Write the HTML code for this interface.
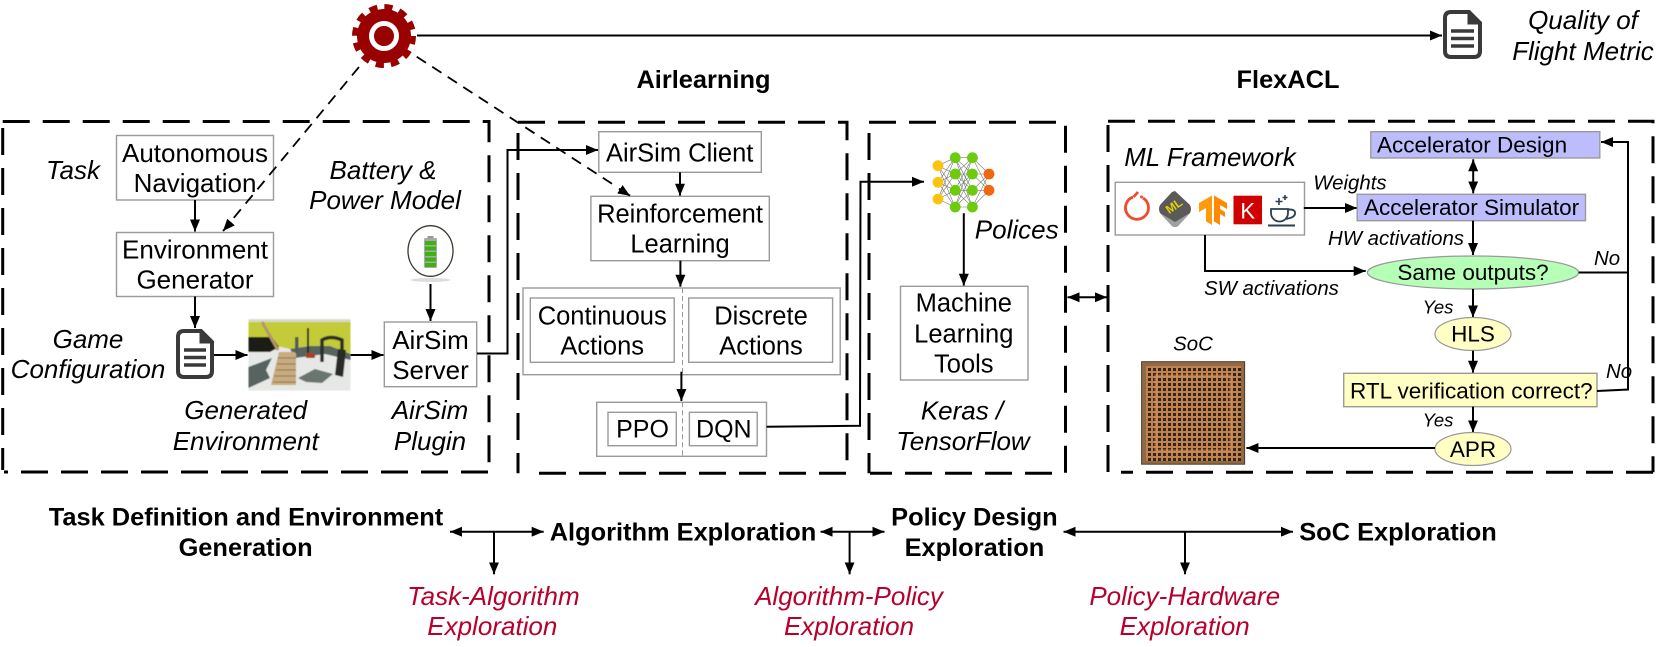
<!DOCTYPE html>
<html><head><meta charset="utf-8"><style>
html,body{margin:0;padding:0;background:#fff}
svg{display:block}
text{font-family:"Liberation Sans",sans-serif;fill:#000}
.m{font-size:26px;text-anchor:middle}
.n{font-size:25.5px;text-anchor:middle}
.s{font-size:22.5px}
.i{font-size:26px;font-style:italic;text-anchor:middle}
.l{font-size:20.4px;font-style:italic}
.b{font-size:25.4px;font-weight:bold;text-anchor:middle}
.r{font-size:26px;font-style:italic;text-anchor:middle;fill:#b7002c}
.box{fill:#fff;stroke:#9a9a9a;stroke-width:1.4}
.dash{fill:none;stroke:#000;stroke-width:3;stroke-dasharray:27 13}
.w{fill:none;stroke:#000;stroke-width:2}
.a{fill:none;stroke:#000;stroke-width:2;marker-end:url(#ah)}
.d{fill:none;stroke:#000;stroke-width:2;marker-end:url(#ah);marker-start:url(#ah)}
.da{fill:none;stroke:#000;stroke-width:1.8;stroke-dasharray:11 7.5}
.thin{stroke:#999;stroke-width:1;stroke-dasharray:5 3;fill:none}
</style></head><body>
<svg width="1661" height="647" viewBox="0 0 1661 647" xmlns="http://www.w3.org/2000/svg">
<defs>
<marker id="ah" markerUnits="userSpaceOnUse" viewBox="0 0 12 10" refX="12" refY="5" markerWidth="12" markerHeight="10" orient="auto-start-reverse"><path d="M0 0L12 5L0 10Z" fill="#000"/></marker>
<pattern id="chip" width="5" height="5" patternUnits="userSpaceOnUse" x="1142" y="362"><rect width="5" height="5" fill="#c08250"/><rect x="1" y="1" width="3" height="3" fill="#33261a"/></pattern>
<filter id="bl"><feGaussianBlur stdDeviation="0.5"/></filter>
</defs>

<!-- dashed boxes -->
<path class="dash" d="M2.7 121.5H489V472"/>
<path class="dash" d="M488 472H4"/>
<path class="dash" d="M2.7 470V121.5" stroke-dashoffset="5"/>
<path class="dash" d="M518 122.3H847V473.3"/>
<path class="dash" d="M846 473.3H530"/>
<path class="dash" d="M518 473.3V122.3" stroke-dashoffset="6.7"/>
<path class="dash" d="M869 122.3H1065.5V473.3"/>
<path class="dash" d="M1052 473.3H870"/>
<path class="dash" d="M869 473.3V122.3" stroke-dashoffset="6.7"/>
<path class="dash" d="M1108 121.3H1653V472.3"/>
<path class="dash" d="M1653 472.3H1121"/>
<path class="dash" d="M1108 472.3V121.3" stroke-dashoffset="39.7"/>

<!-- gear -->
<circle cx="384" cy="36" r="27" fill="#990000"/>
<circle cx="384" cy="36" r="29" fill="none" stroke="#990000" stroke-width="6" stroke-dasharray="8.2 7" />
<circle cx="384" cy="36" r="12.5" fill="none" stroke="#fff" stroke-width="5"/>
<path class="a" d="M417 35.5H1442"/>

<!-- top right doc -->
<g fill="none" stroke="#3a3a3a">
<path d="M1455 12H1469L1480 23V51Q1480 57 1474 57H1451Q1445 57 1445 51V18Q1445 12 1451 12Z" stroke-width="4"/>
<path d="M1468 12V24H1480Z" fill="#3a3a3a" stroke-width="1"/>
<path d="M1451 31H1474M1451 38.500H1474M1451 46H1474" stroke-width="3.600"/>
</g>
<text class="i" x="1583" y="29">Quality of</text>
<text class="i" x="1583" y="60">Flight Metric</text>

<text class="b" x="703.500" y="88">Airlearning</text>
<text class="b" x="1288" y="88">FlexACL</text>

<!-- box 1 -->
<rect class="box" x="116.500" y="135.500" width="157" height="64.500"/>
<text class="m" x="195" y="162">Autonomous</text>
<text class="m" x="195" y="192">Navigation</text>
<rect class="box" x="116.500" y="232.500" width="157" height="64"/>
<text class="m" x="195" y="258.500">Environment</text>
<text class="m" x="195" y="288.700">Generator</text>
<path class="a" d="M195 200V231.500"/>
<path class="a" d="M195 296.500V328"/>
<text class="i" x="73" y="179">Task</text>
<text class="i" x="383" y="179">Battery &amp;</text>
<text class="i" x="385" y="209">Power Model</text>
<text class="i" x="88" y="348">Game</text>
<text class="i" x="88" y="378">Configuration</text>
<text class="i" x="245.700" y="419">Generated</text>
<text class="i" x="245.700" y="450">Environment</text>
<text class="i" x="430" y="419">AirSim</text>
<text class="i" x="430" y="450">Plugin</text>
<g fill="none" stroke="#3a3a3a">
<path d="M188 331H201L212 342V371Q212 377 206 377H184Q178 377 178 371V337Q178 331 184 331Z" stroke-width="4"/>
<path d="M200 331V343H212Z" fill="#3a3a3a" stroke-width="1"/>
<path d="M184 350H206M184 357.500H206M184 365H206" stroke-width="3.600"/>
</g>
<path class="a" d="M214 355H247.500"/>
<path class="a" d="M350.500 355H383.500"/>
<!-- generated environment picture -->
<g filter="url(#bl)">
<rect x="248.500" y="319.300" width="102" height="71.400" fill="#e6e8e6"/>
<rect x="248.500" y="319.300" width="102" height="3" fill="#d8d8c8"/>
<polygon points="248.500,322 350.500,322 350.500,354 330,346 310,346 290,349 272,345 248.500,338" fill="#c4cb39"/>
<polygon points="290,349 310,346 330,346 350.500,354 350.500,360 325,354 295,358" fill="#56645f"/>
<polygon points="248.500,337 272,337 279,347 270,352 248.500,352" fill="#1c1c14"/>
<polygon points="248.500,367 272,358 266,370 270,378 248.500,388" fill="#566360"/>
<polygon points="298,378 315,369 333,374 322,383 306,382" fill="#6a7570"/>
<path d="M262 322L278 350" stroke="#b49668" stroke-width="3" fill="none"/>
<polygon points="279,352 296,352 296,385 271,385" fill="#c8ab7e"/>
<path d="M278 358H296M277 364H296M276 370H296M274 376H296M273 382H296" stroke="#8c7350" stroke-width="1" fill="none"/>
<path d="M322 362V340Q331 335 342 340V358" stroke="#2c2d28" stroke-width="3.500" fill="none"/>
<polygon points="338,349 346,350 343,377 335,375" fill="#2c2c28"/>
<rect x="307" y="328" width="2" height="28" fill="#25251f"/>
<rect x="295" y="337" width="3.500" height="16" fill="#4f5b58"/>
<rect x="306" y="353" width="9" height="5" fill="#a8421f"/>
</g>
<!-- AirSim Server -->
<rect class="box" x="384.300" y="322" width="92.400" height="64.700"/>
<text class="m" x="430.500" y="349">AirSim</text>
<text class="m" x="430.500" y="379">Server</text>
<!-- battery -->
<ellipse cx="430.500" cy="280" rx="20" ry="2" fill="#ddd"/>
<ellipse cx="430.500" cy="251" rx="22.500" ry="25.300" fill="#fff" stroke="#3f3830" stroke-width="1.300"/>
<rect x="424" y="238" width="13" height="30" rx="1.500" fill="#aaa"/>
<rect x="427.500" y="236" width="6" height="2.500" fill="#999"/>
<g fill="#3db212"><rect x="425" y="241" width="11" height="4"/><rect x="425" y="246.500" width="11" height="4"/><rect x="425" y="252" width="11" height="4"/><rect x="425" y="257.500" width="11" height="4"/><rect x="425" y="263" width="11" height="4"/></g>
<path class="a" d="M430.500 284V321"/>
<path class="a" d="M477 353.500H507.500V150H598"/>

<!-- box 2 -->
<rect class="box" x="598.800" y="131.700" width="162.500" height="40.600"/>
<text class="n" x="679.700" y="161.700">AirSim Client</text>
<path class="a" d="M680 172.300V195.700"/>
<rect class="box" x="590.900" y="196.300" width="178.400" height="64.400"/>
<text class="n" x="680" y="222.300">Reinforcement</text>
<text class="n" x="680" y="252.700">Learning</text>
<path class="a" d="M680.400 260.700V286.700"/>
<rect class="box" x="523" y="288" width="317.200" height="86.700"/>
<rect class="box" x="530.300" y="298" width="143.900" height="64.300"/>
<rect class="box" x="688.700" y="298" width="143.900" height="64.300"/>
<path class="thin" d="M682.500 288V374.700"/>
<text class="n" x="602.200" y="324.300">Continuous</text>
<text class="n" x="602.200" y="354.300">Actions</text>
<text class="n" x="761" y="324.300">Discrete</text>
<text class="n" x="761" y="354.300">Actions</text>
<path class="a" d="M681.400 371.700V401"/>
<rect class="box" x="596.700" y="402.300" width="169.800" height="54"/>
<rect class="box" x="608" y="412.300" width="68.300" height="33.400"/>
<rect class="box" x="689.400" y="412.300" width="67.800" height="33.400"/>
<path class="thin" d="M682.500 402.300V456.300"/>
<text class="n" x="642.500" y="437.700" style="font-size:25px">PPO</text>
<text class="n" x="723.800" y="437.700" style="font-size:25px">DQN</text>
<path class="a" d="M766.500 426.700L860 425.700L860.500 181.700H924"/>

<!-- dashed gear connectors, over the boxes -->
<path class="da" d="M359 67L232 220"/>
<path class="a" d="M231 222L223 231"/>
<path class="da" d="M416.700 56.700L617 187"/>
<path class="a" d="M619 188.700L630 195.700"/>

<!-- box 3 -->
<path stroke="#777" stroke-width=".6" fill="none" d="M938 165.700L955 157.700M938 165.700L955 174M938 165.700L955 190.300M938 165.700L955 207M938 182.300L955 157.700M938 182.300L955 174M938 182.300L955 190.300M938 182.300L955 207M938 199L955 157.700M938 199L955 174M938 199L955 190.300M938 199L955 207M955 157.700L972.400 157.700M955 157.700L972.400 174M955 157.700L972.400 190.300M955 157.700L972.400 207M955 174L972.400 157.700M955 174L972.400 174M955 174L972.400 190.300M955 174L972.400 207M955 190.300L972.400 157.700M955 190.300L972.400 174M955 190.300L972.400 190.300M955 190.300L972.400 207M955 207L972.400 157.700M955 207L972.400 174M955 207L972.400 190.300M955 207L972.400 207M972.400 157.700L989 174M972.400 157.700L989 190.300M972.400 174L989 174M972.400 174L989 190.300M972.400 190.300L989 174M972.400 190.300L989 190.300M972.400 207L989 174M972.400 207L989 190.300"/>
<g fill="#fdc30f"><circle cx="938" cy="165.700" r="5.400"/><circle cx="938" cy="182.300" r="5.400"/><circle cx="938" cy="199" r="5.400"/></g>
<g fill="#6ccb0c"><circle cx="955.200" cy="157.700" r="5.400"/><circle cx="955.200" cy="174" r="5.400"/><circle cx="955.200" cy="190.300" r="5.400"/><circle cx="955.200" cy="207" r="5.400"/><circle cx="972.400" cy="157.700" r="5.400"/><circle cx="972.400" cy="174" r="5.400"/><circle cx="972.400" cy="190.300" r="5.400"/><circle cx="972.400" cy="207" r="5.400"/></g>
<g fill="#f2660e"><circle cx="989" cy="174" r="5.400"/><circle cx="989" cy="190.300" r="5.400"/></g>
<path class="a" d="M963.800 213.300V285.700"/>
<text class="i" x="974.800" y="238.300" style="text-anchor:start">Polices</text>
<rect class="box" x="900.500" y="286.300" width="127.500" height="93.700"/>
<text class="n" x="963.800" y="311.700">Machine</text>
<text class="n" x="963.800" y="342.300">Learning</text>
<text class="n" x="963.800" y="372.700">Tools</text>
<text class="i" x="962" y="419.300">Keras /</text>
<text class="i" x="963" y="450">TensorFlow</text>
<path class="d" d="M1067.500 297.300H1107"/>

<!-- box 4 -->
<text class="i" x="1210" y="166" style="font-size:25.800px">ML Framework</text>
<rect class="box" x="1115.200" y="182.300" width="189.300" height="52.700"/>
<!-- icons -->
<path d="M1133 197A11.500 11.500 0 1 0 1143 198" fill="none" stroke="#ee4c2c" stroke-width="2.800"/>
<path d="M1133.500 197L1138 192" fill="none" stroke="#ee4c2c" stroke-width="2.800"/>
<circle cx="1141.500" cy="197" r="1.500" fill="#ee4c2c"/>
<path d="M1175 191L1190 205Q1192 209 1190 213L1178 226Q1175 228 1172 226L1160 213Q1158 209 1160 205L1172 192Z" fill="#5a5a5a"/>
<path d="M1160 213L1172 226Q1175 228 1178 226L1190 213L1175 222Z" fill="#a0a0a0"/>
<text x="1174" y="210" transform="rotate(-35 1174 206)" style="font-size:12px;font-weight:bold;text-anchor:middle;fill:#e6d000">ML</text>
<polygon points="1199,203 1212,195.500 1212,225 1206,221.500 1206,208 1199,212" fill="#ff9a0a"/>
<polygon points="1214,195.500 1227,203 1227,209 1220,205 1220,209 1225,212 1225,217 1220,214 1220,225 1214,221.500" fill="#ff8a00"/>
<rect x="1233.500" y="195.700" width="28.500" height="28.600" fill="#d00000"/>
<text x="1247.700" y="218.500" style="font-size:22px;text-anchor:middle;fill:#fff">K</text>
<path d="M1271 209H1288V213A8.500 8.500 0 0 1 1271 213ZM1288 209.500Q1296 209 1295 214Q1294 218 1285 219" fill="none" stroke="#2c3e50" stroke-width="1.800"/>
<path d="M1268 225.500H1295" stroke="#2c3e50" stroke-width="2"/>
<path d="M1279 198V205M1275.500 201.500H1282.500M1285 195V200M1282.500 197.500H1287.500" stroke="#2c3e50" stroke-width="1.600"/>
<path class="a" d="M1303.800 208H1357"/>
<text class="l" x="1313.300" y="189.300">Weights</text>
<text class="l" x="1328" y="245">HW activations</text>
<text class="l" x="1204" y="295">SW activations</text>
<path class="a" d="M1205 235V271H1365.700"/>

<rect x="1370.800" y="131.700" width="229" height="26.300" fill="#bdbdfd" stroke="#9a9a9a" stroke-width="1.400"/>
<text class="s" x="1377" y="152.300">Accelerator Design</text>
<path class="d" d="M1473.200 159.300V193.300"/>
<rect x="1357.200" y="194.300" width="228.300" height="26.400" fill="#bdbdfd" stroke="#9a9a9a" stroke-width="1.400"/>
<text class="s" x="1364" y="215">Accelerator Simulator</text>
<path class="a" d="M1473 220.700V255"/>
<ellipse cx="1473" cy="272.500" rx="105.600" ry="16.500" fill="#b6ffb6" stroke="#9a9a9a" stroke-width="1.200"/>
<text class="s" x="1473" y="280" text-anchor="middle">Same outputs?</text>
<path class="a" d="M1473 289V317.300"/>
<text class="l" x="1438" y="313.300" text-anchor="middle" style="font-size:18.500px">Yes</text>
<ellipse cx="1473" cy="334" rx="38" ry="16.500" fill="#ffffc4" stroke="#9a9a9a" stroke-width="1.200"/>
<text class="s" x="1473" y="341.700" text-anchor="middle">HLS</text>
<path class="a" d="M1473 350.700V372.700"/>
<rect x="1343.700" y="373.300" width="253.300" height="33.400" fill="#ffffc4" stroke="#9a9a9a" stroke-width="1.400"/>
<text class="s" x="1350" y="398.300">RTL verification correct?</text>
<path class="a" d="M1473 406.700V432.300"/>
<text class="l" x="1438" y="426.700" text-anchor="middle" style="font-size:18.500px">Yes</text>
<ellipse cx="1473" cy="449" rx="38" ry="16.500" fill="#ffffc4" stroke="#9a9a9a" stroke-width="1.200"/>
<text class="s" x="1473" y="457" text-anchor="middle">APR</text>
<path class="a" d="M1435 448H1246.400"/>
<path class="a" d="M1597 391L1628 389.500V142H1601"/>
<path class="w" d="M1578.600 272.500H1628"/>
<text class="l" x="1594" y="265">No</text>
<text class="l" x="1606" y="378">No</text>

<!-- chip -->
<rect x="1141.600" y="361.700" width="103" height="102.500" fill="#8f6a42" stroke="#4a3a28" stroke-width="1"/>
<rect x="1146" y="366" width="95" height="95" fill="url(#chip)"/>
<rect x="1156" y="376" width="75" height="75" fill="none" stroke="#d98f58" stroke-width="3" opacity=".6"/>
<text class="l" x="1193" y="350.700" text-anchor="middle">SoC</text>

<!-- bottom row -->
<text class="b" x="246" y="525.700">Task Definition and Environment</text>
<text class="b" x="245.600" y="556">Generation</text>
<text class="b" x="683" y="540.300">Algorithm Exploration</text>
<text class="b" x="974.400" y="525.700">Policy Design</text>
<text class="b" x="974.400" y="556">Exploration</text>
<text class="b" x="1398" y="540.300">SoC Exploration</text>
<path class="d" d="M450 531.700H543.700"/>
<path class="a" d="M494 531.700V574.300"/>
<path class="d" d="M820.500 531.700H884.500"/>
<path class="a" d="M849.600 531.700V574.300"/>
<path class="d" d="M1063.500 531.700H1293"/>
<path class="a" d="M1185 531.700V574.300"/>
<text class="r" x="493.400" y="605">Task-Algorithm</text>
<text class="r" x="492.300" y="635">Exploration</text>
<text class="r" x="849" y="605">Algorithm-Policy</text>
<text class="r" x="849" y="635">Exploration</text>
<text class="r" x="1184.700" y="605">Policy-Hardware</text>
<text class="r" x="1184.700" y="635">Exploration</text>
</svg>
</body></html>
